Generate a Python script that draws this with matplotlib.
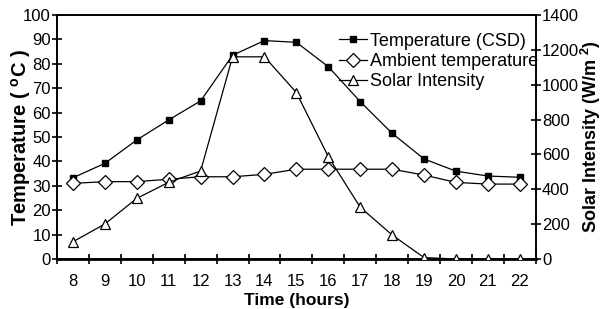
import matplotlib
matplotlib.use("Agg")
import matplotlib.pyplot as plt
import numpy as np

hours = [8, 9, 10, 11, 12, 13, 14, 15, 16, 17, 18, 19, 20, 21, 22]
temp_csd = [33.3, 39.2, 48.8, 57, 64.8, 83.5, 89.5, 88.8, 78.8, 64.5, 51.5, 41, 36, 34, 33.5]
ambient = [31, 31.7, 31.7, 32.7, 33.7, 33.7, 34.7, 36.8, 36.8, 36.8, 36.8, 34.4, 31.4, 30.7, 30.7]
solar = [99, 201, 348, 440, 505, 1160, 1160, 955, 587, 297, 138, 8, 0, 0, 0]

plt.rcParams["font.family"] = ["Liberation Sans", "DejaVu Sans"]

fig = plt.figure(figsize=(6.04, 3.09), dpi=100)
ax = fig.add_axes([0.0944, 0.1618, 0.7926, 0.7897])
ax2 = ax.twinx()

l1, = ax.plot(hours, temp_csd, color="black", lw=0.9, marker="s", ms=5,
              mfc="black", mec="black", zorder=3, label="Temperature (CSD)")
l2, = ax.plot(hours, ambient, color="black", lw=0.9, marker="D", ms=7,
              mfc="white", mec="black", mew=0.9, zorder=3, label="Ambient temperature")
l3, = ax2.plot(hours, solar, color="black", lw=0.9, marker="^", ms=7.5,
               mfc="white", mec="black", mew=0.9, zorder=3, label="Solar Intensity")

ax.set_xlim(7.5, 22.5)
ax.set_ylim(0, 100)
ax2.set_ylim(0, 1400)
ax.set_xticks(hours)
ax.set_xticks(np.arange(7.5, 23, 1), minor=True)
ax.set_yticks(range(0, 101, 10))
ax2.set_yticks(range(0, 1401, 200))

ax.tick_params(axis="x", which="major", length=0, labelsize=12, pad=11)
ax.tick_params(axis="x", which="minor", direction="inout", length=7, width=1.2)
ax.tick_params(axis="y", direction="inout", length=7, width=1.2, labelsize=12, pad=1)
ax2.tick_params(axis="y", direction="inout", length=7, width=1.2, labelsize=12, pad=1)

for a in (ax, ax2):
    for s in a.spines.values():
        s.set_linewidth(1.2)
ax.spines["bottom"].set_linewidth(2)

ax.set_xlabel("Time (hours)", fontsize=12.5, fontweight="bold")
ax.xaxis.set_label_coords(0.5, -0.14)
ax.set_ylabel("Temperature ( $^{\\mathregular{o}}$C )", fontsize=14.5, fontweight="bold")
ax.yaxis.set_label_coords(-0.05, 0.5)
ax2.set_ylabel("Solar Intensity (W/m $^{\\mathregular{2}}$)", fontsize=13, fontweight="bold")
ax2.yaxis.set_label_coords(1.09, 0.5)

ax2.legend(handles=[l1, l2, l3], loc="upper left", bbox_to_anchor=(0.59, 0.927),
           frameon=False, fontsize=13, handlelength=1.55, handletextpad=0.15,
           labelspacing=0.17, borderaxespad=0, borderpad=0)

fig.savefig("out.png", dpi=100)
